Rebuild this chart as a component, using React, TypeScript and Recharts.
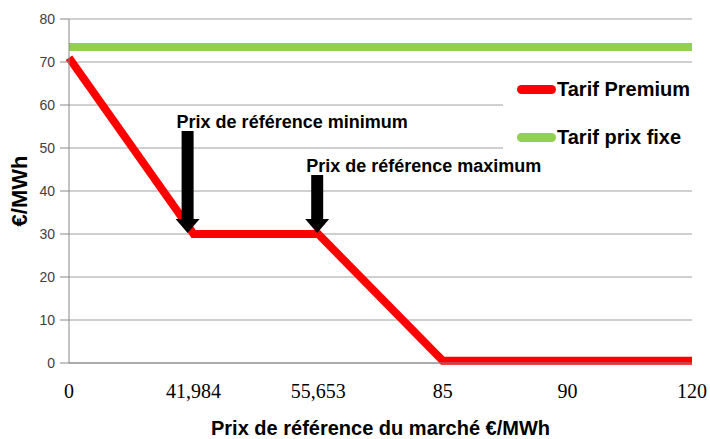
import React from 'react';
import { LineChart, Line, XAxis, YAxis, CartesianGrid, Legend, ReferenceDot, Label } from 'recharts';

// market reference price (categories on the x axis)
const marketPrices = ['0', '41,984', '55,653', '85', '90', '120'];
// €/MWh
const premiumTariff = [71, 30, 30, 0.5, 0.5, 0.5];
const fixedTariff = [73.5, 73.5, 73.5, 73.5, 73.5, 73.5];
const yTicks = [0, 10, 20, 30, 40, 50, 60, 70, 80];

const annotations = [
  { at: '41,984', value: 30, text: 'Prix de référence minimum' },
  { at: '55,653', value: 30, text: 'Prix de référence maximum' },
];

// arrow look per annotation (pixels)
const arrowLook: Record<string, { shaft: number; shiftX: number }> = {
  '41,984': { shaft: 102, shiftX: -6 },
  '55,653': { shaft: 58, shiftX: -1 },
};

const data = marketPrices.map((price, i) => ({
  price,
  premium: premiumTariff[i],
  fixed: fixedTariff[i],
}));

const boldFont = '"Liberation Sans", Arial, sans-serif';

const Arrow = ({ cx, cy, text, at }: any) => {
  const { shaft, shiftX } = arrowLook[at];
  const tipX = cx + shiftX;
  const tipY = cy - 1;
  const headH = 14;
  const headW = 24;
  const shaftW = 12;
  const top = tipY - shaft;
  return (
    <g>
      <rect x={tipX - shaftW / 2} y={top} width={shaftW} height={shaft - headH + 1} fill="#000" />
      <polygon
        points={`${tipX - headW / 2},${tipY - headH} ${tipX + headW / 2},${tipY - headH} ${tipX},${tipY}`}
        fill="#000"
      />
      <text x={tipX - 11} y={top - 3} fontFamily={boldFont} fontWeight="bold" fontSize={18} fill="#000">
        {text}
      </text>
    </g>
  );
};

const renderLegend = ({ payload }: any) => (
  <div style={{ background: '#fff', width: '100%', height: '100%', fontFamily: boldFont }}>
    {(payload || []).map((entry: any) => (
      <div key={entry.value} style={{ display: 'flex', alignItems: 'center', height: 48, paddingLeft: 14 }}>
        <span style={{ display: 'inline-block', width: 39, height: 9, borderRadius: 5, background: entry.color }} />
        <span style={{ fontSize: 20, fontWeight: 'bold', color: '#000', marginLeft: 1 }}>{entry.value}</span>
      </div>
    ))}
  </div>
);

export default function App() {
  return (
    <div style={{ position: 'absolute', left: 0, top: 0, width: 710, height: 439, background: '#fff' }}>
      <LineChart width={710} height={439} data={data} margin={{ top: 19, right: 18, left: 0, bottom: 0 }}>
        <CartesianGrid vertical={false} stroke="#a0a0a0" />
        <XAxis
          dataKey="price"
          type="category"
          interval={0}
          height={76}
          tickLine={false}
          tickSize={0}
          tickMargin={21}
          stroke="#888"
          tick={{ fontSize: 20, fontFamily: '"Liberation Serif", "Times New Roman", serif', fill: '#000' }}
        >
          <Label
            content={({ viewBox }: any) => (
              <text
                x={viewBox.x + viewBox.width / 2}
                y={435}
                textAnchor="middle"
                fontFamily={boldFont}
                fontWeight="bold"
                fontSize={20}
                fill="#000"
              >
                Prix de référence du marché €/MWh
              </text>
            )}
          />
        </XAxis>
        <YAxis
          width={69}
          domain={[0, 80]}
          ticks={yTicks}
          interval={0}
          tickSize={9}
          tickMargin={5}
          stroke="#888"
          tick={{ fontSize: 14, fontFamily: boldFont, fill: '#404040' }}
        >
          <Label
            content={({ viewBox }: any) => {
              const y = viewBox.y + viewBox.height / 2;
              return (
                <text
                  x={19}
                  y={y}
                  transform={`rotate(-90 19 ${y})`}
                  textAnchor="middle"
                  dominantBaseline="central"
                  fontFamily={boldFont}
                  fontWeight="bold"
                  fontSize={22}
                  fill="#000"
                >
                  €/MWh
                </text>
              );
            }}
          />
        </YAxis>
        <Legend
          layout="vertical"
          align="center"
          verticalAlign="middle"
          content={renderLegend}
          wrapperStyle={{ left: 503, top: 65, width: 200, height: 96 }}
        />
        <Line
          dataKey="premium"
          name="Tarif Premium"
          stroke="#ff0000"
          strokeWidth={8}
          dot={false}
          activeDot={false}
          isAnimationActive={false}
        />
        <Line
          dataKey="fixed"
          name="Tarif prix fixe"
          stroke="#92d050"
          strokeWidth={8}
          dot={false}
          activeDot={false}
          isAnimationActive={false}
        />
        {annotations.map((a) => (
          <ReferenceDot
            key={a.at}
            x={a.at}
            y={a.value}
            r={0}
            shape={(props: any) => <Arrow {...props} text={a.text} at={a.at} />}
          />
        ))}
      </LineChart>
    </div>
  );
}
